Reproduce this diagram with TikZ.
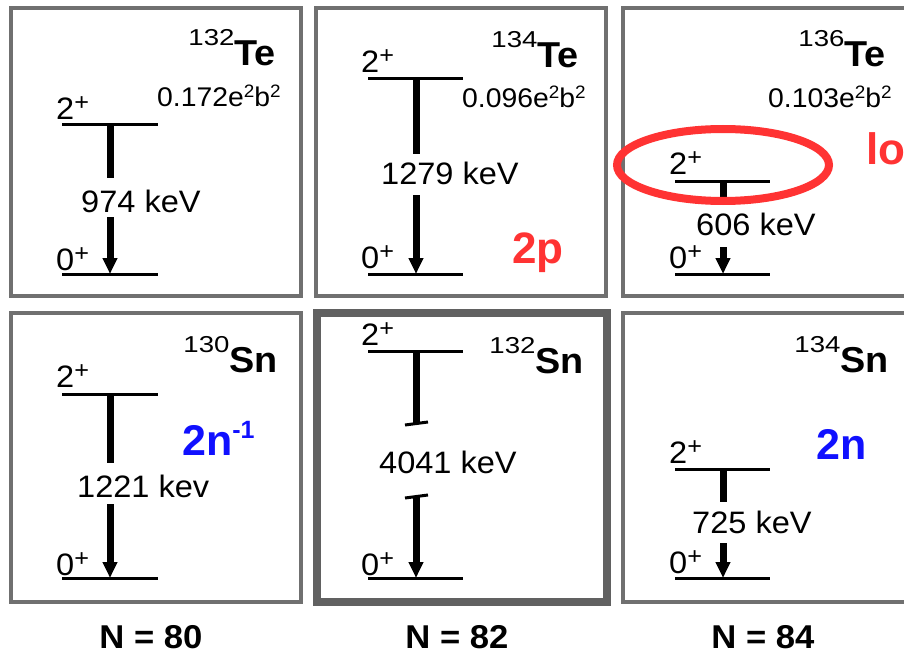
\documentclass[tikz,border=0pt]{standalone}
\usepackage{fontspec}
\setmainfont{Liberation Sans}
\newfontfamily\figfont[FakeStretch=1.05]{Liberation Sans}
\newfontfamily\supfont[FakeStretch=1.2]{Liberation Sans}
\usetikzlibrary{arrows.meta}
\definecolor{boxgray}{RGB}{112,112,112}
\definecolor{annred}{RGB}{255,51,51}
\definecolor{annblue}{RGB}{16,16,255}
\newcommand\fsz[1]{\fontsize{#1}{#1}\selectfont}
\newcommand\spin[1]{#1\raisebox{9pt}{\fsz{24}+}}
\newcommand\nucl[2]{\raisebox{20pt}{\supfont\fsz{23}#1}{\fsz{36}\bfseries #2}}
\newcommand\bee[1]{#1e\raisebox{9pt}{\fsz{18}2}b\raisebox{9pt}{\fsz{18}2}}
\begin{document}
\begin{tikzpicture}[x=1pt,y=-1pt,
  box/.style={draw=boxgray,line width=3.5pt},
  hbox/.style={draw=black!62,line width=7.5pt},
  lvl/.style={line width=3pt},
  shaft/.style={line width=7pt},
  gam/.style={line width=7pt,-{Triangle[length=16pt,width=14pt]}},
  tickmark/.style={line width=3pt},
  txt/.style={inner sep=0pt,anchor=base west,font=\figfont\fsz{31}},
  nuc/.style={inner sep=0pt,anchor=base east,font=\figfont},
  be2/.style={inner sep=0pt,anchor=base west,font=\figfont\fsz{27}},
  nlab/.style={inner sep=0pt,anchor=base,font=\figfont\bfseries\fsz{33}},
  ann/.style={inner sep=0pt,anchor=base west,font=\bfseries\fsz{44}},
]
\useasboundingbox (0,0) rectangle (904,663);

% ---------- Box 1: 132Te ----------
\draw[box] (11,8) rectangle (301,296);
\coordinate (a2l) at (62,125); \coordinate (a2r) at (158,125);
\coordinate (a0l) at (62,274); \coordinate (a0r) at (158,274);
\draw[lvl] (a2l) -- (a2r); \draw[lvl] (a0l) -- (a0r);
\coordinate (a2) at (110,125); \coordinate (a2e) at (110,178);
\coordinate (a0s) at (110,217); \coordinate (a0) at (110,274);
\draw[shaft] (a2) -- (a2e); \draw[gam] (a0s) -- (a0);
\node[txt] (a2lab) at (56,120) {\spin{2}};
\node[txt] (a0lab) at (56,270) {\spin{0}};
\node[txt] (aE) at (81,212) {974 keV};
\node[nuc] (aN) at (276,66) {\nucl{132}{Te}};
\node[be2] (aB) at (157,107) {\bee{0.172}};

% ---------- Box 2: 134Te ----------
\draw[box] (316,8) rectangle (606,296);
\coordinate (b2l) at (368,79); \coordinate (b2r) at (463,79);
\coordinate (b0l) at (368,274); \coordinate (b0r) at (463,274);
\draw[lvl] (b2l) -- (b2r); \draw[lvl] (b0l) -- (b0r);
\coordinate (b2) at (416,79); \coordinate (b2e) at (416,154);
\coordinate (b0s) at (416,195); \coordinate (b0) at (416,274);
\draw[shaft] (b2) -- (b2e); \draw[gam] (b0s) -- (b0);
\node[txt] (b2lab) at (361,73) {\spin{2}};
\node[txt] (b0lab) at (361,268) {\spin{0}};
\node[txt] (bE) at (381,185) {1279 keV};
\node[nuc] (bN) at (579,68) {\nucl{134}{Te}};
\node[be2] (bB) at (462,108) {\bee{0.096}};
\node[ann,text=annred] (bAnn) at (512,263) {2p};

% ---------- Box 3: 136Te ----------
\draw[box] (623,8) rectangle (915,296);
\coordinate (c2l) at (675,182); \coordinate (c2r) at (770,182);
\coordinate (c0l) at (675,274); \coordinate (c0r) at (770,274);
\draw[lvl] (c2l) -- (c2r); \draw[lvl] (c0l) -- (c0r);
\coordinate (c2) at (723,182); \coordinate (c2e) at (723,198);
\coordinate (c0s) at (723,247); \coordinate (c0) at (723,274);
\draw[shaft] (c2) -- (c2e); \draw[gam] (c0s) -- (c0);
\node[txt] (c2lab) at (669,175) {\spin{2}};
\node[txt] (c0lab) at (669,268) {\spin{0}};
\node[txt] (cE) at (696,235) {606 keV};
\node[nuc] (cN) at (886,67) {\nucl{136}{Te}};
\node[be2] (cB) at (768,108) {\bee{0.103}};
\draw[annred,line width=8pt] (723,165) ellipse [x radius=106, y radius=36];
\node[ann,text=annred] (cAnn) at (866,165) {lo};

% ---------- Box 4: 130Sn ----------
\draw[box] (11,313) rectangle (301,602);
\coordinate (d2l) at (62,394); \coordinate (d2r) at (158,394);
\coordinate (d0l) at (62,578); \coordinate (d0r) at (158,578);
\draw[lvl] (d2l) -- (d2r); \draw[lvl] (d0l) -- (d0r);
\coordinate (d2) at (110,394); \coordinate (d2e) at (110,463);
\coordinate (d0s) at (110,504); \coordinate (d0) at (110,578);
\draw[shaft] (d2) -- (d2e); \draw[gam] (d0s) -- (d0);
\node[txt] (d2lab) at (56,387) {\spin{2}};
\node[txt] (d0lab) at (56,575) {\spin{0}};
\node[txt] (dE) at (77,497) {1221 kev};
\node[nuc] (dN) at (278,372) {\nucl{130}{Sn}};
\node[ann,text=annblue,font=\bfseries\fsz{43}] (dAnn) at (182,455) {2n\raisebox{17pt}{\fsz{25}-1}};
\node[nlab] (dNN) at (151,648) {N = 80};

% ---------- Box 5: 132Sn ----------
\draw[hbox] (317,313) rectangle (607,602);
\coordinate (e2l) at (368,351); \coordinate (e2r) at (463,351);
\coordinate (e0l) at (368,578); \coordinate (e0r) at (463,578);
\draw[lvl] (e2l) -- (e2r); \draw[lvl] (e0l) -- (e0r);
\coordinate (e2) at (416,351); \coordinate (e2e) at (416,424);
\coordinate (e0s) at (416,496); \coordinate (e0) at (416,578);
\draw[shaft] (e2) -- (e2e); \draw[gam] (e0s) -- (e0);
\coordinate (et1a) at (405,425); \coordinate (et1b) at (428,422);
\coordinate (et2a) at (405,498); \coordinate (et2b) at (428,495);
\draw[tickmark] (et1a) -- (et1b);
\draw[tickmark] (et2a) -- (et2b);
\node[txt] (e2lab) at (361,345) {\spin{2}};
\node[txt] (e0lab) at (361,575) {\spin{0}};
\node[txt] (eE) at (379,473) {4041 keV};
\node[nuc] (eN) at (584,373) {\nucl{132}{Sn}};
\node[nlab] (eNN) at (457,648) {N = 82};

% ---------- Box 6: 134Sn ----------
\draw[box] (623,313) rectangle (915,602);
\coordinate (f2l) at (675,469); \coordinate (f2r) at (770,469);
\coordinate (f0l) at (675,578); \coordinate (f0r) at (770,578);
\draw[lvl] (f2l) -- (f2r); \draw[lvl] (f0l) -- (f0r);
\coordinate (f2) at (723,469); \coordinate (f2e) at (723,502);
\coordinate (f0s) at (723,543); \coordinate (f0) at (723,578);
\draw[shaft] (f2) -- (f2e); \draw[gam] (f0s) -- (f0);
\node[txt] (f2lab) at (669,463) {\spin{2}};
\node[txt] (f0lab) at (669,573) {\spin{0}};
\node[txt] (fE) at (692,533) {725 keV};
\node[nuc] (fN) at (889,372) {\nucl{134}{Sn}};
\node[ann,text=annblue,font=\bfseries\fsz{43}] (fAnn) at (816,459) {2n};
\node[nlab] (fNN) at (763,648) {N = 84};
\end{tikzpicture}
\end{document}
